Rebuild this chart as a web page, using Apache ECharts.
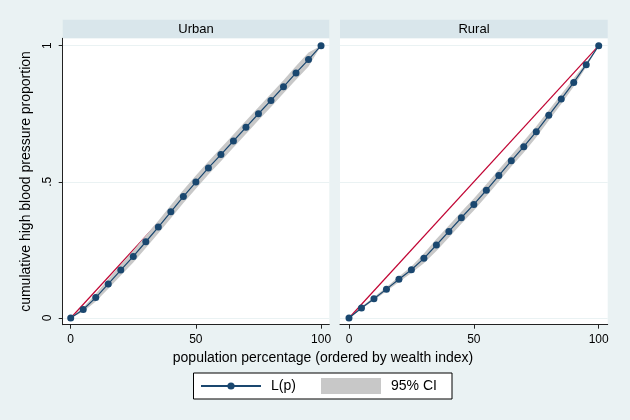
<!DOCTYPE html>
<html>
<head>
<meta charset="utf-8">
<script src="https://cdn.jsdelivr.net/npm/echarts@6/dist/echarts.min.js"></script>
<style>html,body{margin:0;padding:0;background:#EAF2F3;}#c{width:630px;height:420px;}</style>
</head>
<body>
<div id="c"></div>
<script>
// ---- data ----
const pct = [0,5,10,15,20,25,30,35,40,45,50,55,60,65,70,75,80,85,90,95,100];
const urbanL  = [0,0.031,0.075,0.125,0.176,0.226,0.280,0.334,0.390,0.446,0.499,0.551,0.600,0.650,0.700,0.750,0.799,0.849,0.900,0.949,1];
const urbanLo = [0,0.023,0.061,0.107,0.156,0.204,0.257,0.311,0.366,0.422,0.475,0.527,0.576,0.626,0.676,0.726,0.775,0.825,0.875,0.923,1];
const urbanHi = [0,0.039,0.089,0.143,0.196,0.248,0.303,0.357,0.414,0.470,0.523,0.575,0.624,0.674,0.724,0.774,0.823,0.873,0.925,0.975,1];
const ruralL  = [0,0.037,0.071,0.106,0.142,0.177,0.219,0.268,0.318,0.368,0.417,0.469,0.523,0.577,0.629,0.684,0.744,0.804,0.865,0.930,1];
const ruralLo = [0,0.033,0.065,0.098,0.132,0.165,0.201,0.246,0.296,0.346,0.395,0.447,0.501,0.556,0.608,0.664,0.725,0.786,0.850,0.922,1];
const ruralHi = [0,0.041,0.077,0.114,0.152,0.189,0.237,0.290,0.340,0.390,0.439,0.491,0.545,0.598,0.650,0.704,0.763,0.822,0.880,0.938,1];
const eqX = [0,100];
const eqY = [0,1];
const panels = ['Urban','Rural'];
const xTicks = [0,50,100];
const yTicks = [0,0.5,1];
const yTickLabels = {0:'0',0.5:'.5',1:'1'};
const legendNames = ['L(p)','95% CI'];

// ---- build ----
const FONT = 'Liberation Sans, Arial, sans-serif';
const NAVY = '#1A476F', RED = '#C10534', CI = '#C8C8C8', GRIDC = '#EAF2F3', AX = '#222';
const pair = (xs, ys) => xs.map((x,i)=>[x, ys[i]]);

const grids = [
  {left:62.7, top:38.3, width:266.6, height:286.4, show:true, backgroundColor:'#fff', borderWidth:0},
  {left:340, top:38.3, width:267.7, height:286.4, show:true, backgroundColor:'#fff', borderWidth:0}
];
const xr = [[-3.2,103.3],[-3.6,103.6]];
const xAxes = grids.map((g,i)=>({
  type:'value', gridIndex:i, min:xr[i][0], max:xr[i][1],
  axisLine:{show:true, onZero:false, lineStyle:{color:AX, width:1}},
  axisTick:{show:true, length:4, lineStyle:{color:AX}, customValues:xTicks},
  axisLabel:{show:true, customValues:xTicks, fontFamily:FONT, fontSize:12, color:'#000', margin:9},
  splitLine:{show:false}
}));
const yAxes = grids.map((g,i)=>({
  type:'value', gridIndex:i, min:-0.0246, max:1.027,
  axisLine:{show:i===0, onZero:false, lineStyle:{color:AX, width:1}},
  axisTick:{show:i===0, length:4, lineStyle:{color:AX}, customValues:yTicks},
  axisLabel:{show:i===0, customValues:yTicks, rotate:90, fontFamily:FONT, fontSize:12, color:'#000', margin:9,
             formatter:v=>yTickLabels[v] !== undefined ? yTickLabels[v] : ''},
  splitLine:{show:false},
  name: i===0 ? 'cumulative high blood pressure proportion' : '',
  nameLocation:'middle', nameGap:30, nameRotate:90,
  nameTextStyle:{fontFamily:FONT, fontSize:14, color:'#000'}
}));

const series = [];
const data = [[urbanL,urbanLo,urbanHi],[ruralL,ruralLo,ruralHi]];
data.forEach((d,i)=>{
  const lo = d[1], hi = d[2];
  series.push({type:'line', name:'grid'+i, xAxisIndex:i, yAxisIndex:i, data:[[0,0]], symbol:'none',
    lineStyle:{opacity:0}, silent:true, z:0,
    markLine:{z:0, silent:true, symbol:'none', label:{show:false}, lineStyle:{color:GRIDC, width:1, type:'solid'},
      data: yTicks.map(v=>({yAxis:v}))}});
  series.push({type:'line', name:'equality'+i, xAxisIndex:i, yAxisIndex:i, data:pair(eqX,eqY), symbol:'none',
    lineStyle:{color:RED, width:1.2}, z:2, silent:true});
  series.push({type:'custom', name:'95% CI', xAxisIndex:i, yAxisIndex:i,
    data: pct.map((x,k)=>[x, lo[k], hi[k]]),
    encode:{x:0, y:[1,2]},
    itemStyle:{color:CI}, z:3, silent:true,
    renderItem:(params, api)=>{
      if (params.dataIndex !== 0) return null;
      const pts = [];
      for (let k=0;k<pct.length;k++) pts.push(api.coord([pct[k], hi[k]]));
      for (let k=pct.length-1;k>=0;k--) pts.push(api.coord([pct[k], lo[k]]));
      return {type:'polygon', shape:{points:pts}, style:{fill:CI, stroke:null}};
    }});
  series.push({type:'line', name:'L(p)', xAxisIndex:i, yAxisIndex:i, data:pair(pct,d[0]),
    symbol:'circle', symbolSize:7, itemStyle:{color:NAVY}, lineStyle:{color:NAVY, width:1.2}, z:4, silent:true});
});

const legendText = {fontFamily:FONT, fontSize:14, color:'#000', lineHeight:16, padding:[0,0,0,5]};
const option = {
  backgroundColor:'#EAF2F3',
  animation:false,
  grid:grids, xAxis:xAxes, yAxis:yAxes, series:series,
  legend:[
    {left:200, top:378, orient:'horizontal', data:[{name:legendNames[0]}],
     itemWidth:60, itemHeight:9, padding:0, textStyle:legendText, selectedMode:false, z:10},
    {left:321, top:378, orient:'horizontal', data:[{name:legendNames[1], icon:'rect', itemStyle:{color:CI}}],
     itemWidth:60, itemHeight:16, padding:0, textStyle:legendText, selectedMode:false, z:10}
  ],
  graphic:[
    {type:'rect', shape:{x:62.7, y:19.7, width:266.6, height:18.6}, style:{fill:'#D9E6EB'}, silent:true},
    {type:'rect', shape:{x:340, y:19.7, width:267.7, height:18.6}, style:{fill:'#D9E6EB'}, silent:true},
    {type:'text', x:196, y:29, style:{text:panels[0], font:'13px '+FONT, fill:'#000', textAlign:'center', textVerticalAlign:'middle'}, silent:true},
    {type:'text', x:474, y:29, style:{text:panels[1], font:'13px '+FONT, fill:'#000', textAlign:'center', textVerticalAlign:'middle'}, silent:true},
    {type:'text', x:323, y:358, style:{text:'population percentage (ordered by wealth index)', font:'14px '+FONT, fill:'#000', textAlign:'center', textVerticalAlign:'middle'}, silent:true},
    {type:'rect', z:1, shape:{x:193.5, y:373, width:258.5, height:26}, style:{fill:'#fff', stroke:'#000', lineWidth:1}, silent:true}
  ]
};
const chart = echarts.init(document.getElementById('c'), null, {renderer:'canvas'});
chart.setOption(option);
</script>
</body>
</html>
